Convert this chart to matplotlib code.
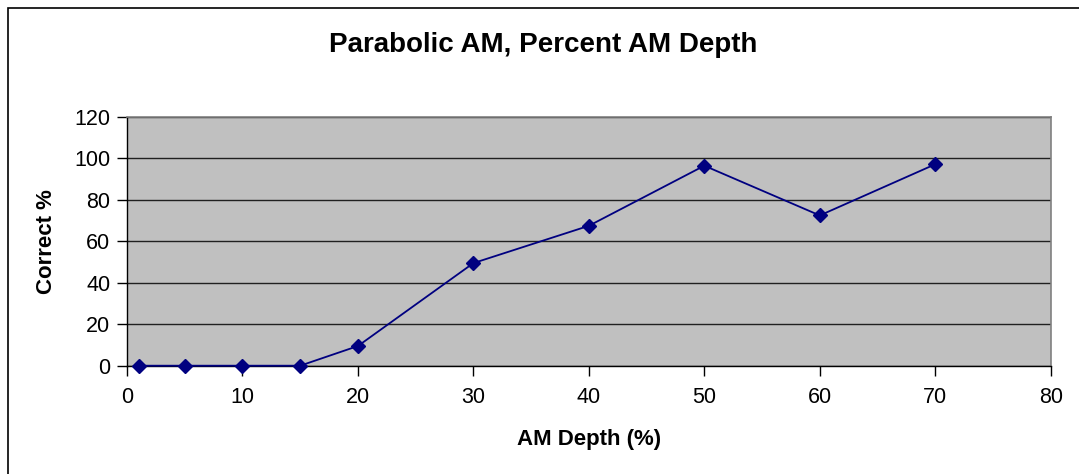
import numpy as np
import matplotlib.pyplot as plt
from matplotlib.patches import Rectangle

depth = [1, 5, 10, 15, 20, 30, 40, 50, 60, 70]
correct = [0, 0, 0, 0, 9.5, 49.5, 67.5, 96.5, 72.5, 97.2]

plt.rcParams['font.family'] = ['Liberation Sans', 'DejaVu Sans']

fig = plt.figure(figsize=(10.79, 4.74), dpi=100)
fig.patches.append(Rectangle((8 / 1079, -0.1), 1.2, (474 - 8) / 474 + 0.1,
                             transform=fig.transFigure, fill=False,
                             edgecolor='black', linewidth=1.2))

ax = fig.add_axes([127 / 1079, 1 - 365.7 / 474, 923.7 / 1079, 248.7 / 474])
ax.set_facecolor('#c0c0c0')
ax.plot(depth, correct, color='#000080', linewidth=1.3, marker='D',
        markersize=7.5, zorder=3, clip_on=False)

ax.set_xlim(0, 80)
ax.set_ylim(0, 120)
ax.set_xticks(np.arange(0, 81, 10))
ax.set_yticks(np.arange(0, 121, 20))
ax.yaxis.grid(True, color='#202020', linewidth=1.0)
ax.set_axisbelow(True)

for s in ['top', 'right']:
    ax.spines[s].set_color('#808080')
    ax.spines[s].set_linewidth(1.2)
for s in ['left', 'bottom']:
    ax.spines[s].set_color('black')
    ax.spines[s].set_linewidth(1.0)

ax.tick_params(direction='out', length=7, width=1, labelsize=15.5)
ax.tick_params(axis='x', pad=8)
ax.tick_params(axis='y', pad=5)

fig.text(0.5037, 1 - 45 / 474, 'Parabolic AM, Percent AM Depth', ha='center',
         va='center', fontsize=20, fontweight='bold')
fig.text(589 / 1079, 1 - 439 / 474, 'AM Depth (%)', ha='center', va='center',
         fontsize=16, fontweight='bold')
fig.text(46 / 1079, 1 - 242 / 474, 'Correct %', ha='center', va='center',
         rotation=90, fontsize=16, fontweight='bold')

fig.savefig('out.png', dpi=100)
